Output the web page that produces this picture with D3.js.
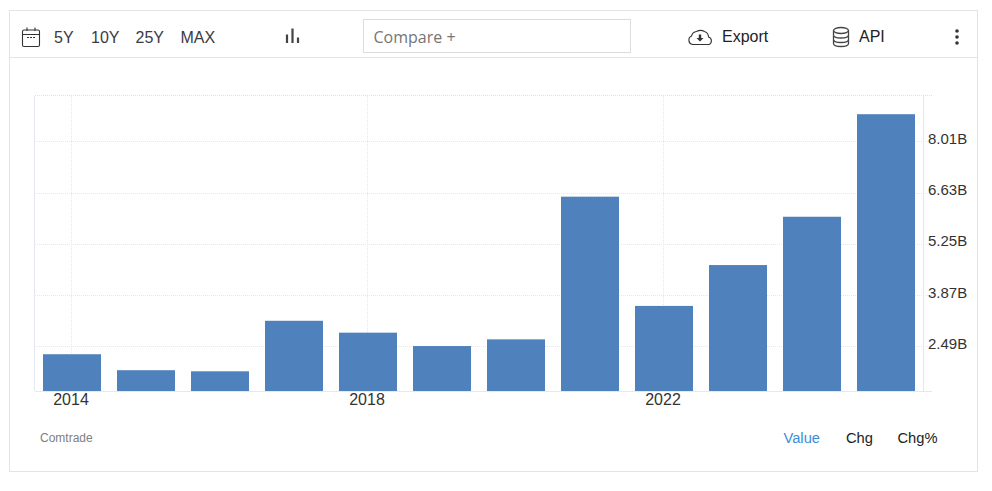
<!DOCTYPE html>
<html><head><meta charset="utf-8">
<script src="https://cdn.jsdelivr.net/npm/d3@7"></script>
<style>
html,body{margin:0;padding:0;background:#fff;overflow:hidden}
text{font-family:"Liberation Sans",Arial,sans-serif}
</style></head><body><svg id="c" width="992" height="491"></svg>
<script>
const years=[2014,2015,2016,2017,2018,2019,2020,2021,2022,2023,2024,2025];
const values=[2.28,1.85,1.82,3.18,2.86,2.5,2.68,6.52,3.58,4.68,5.98,8.74];
const yTicks=[2.49,3.87,5.25,6.63,8.01];
const yLabels=["2.49B","3.87B","5.25B","6.63B","8.01B"];
const xTicks=[2014,2018,2022];
const ranges=["5Y","10Y","25Y","MAX"];
const rangeX=[54,91,135.5,180.5];
const modes=["Value","Chg","Chg%"];
const modeX=[783.5,846,897.5];
const modeCol=["#3b8ed8","#222","#222"];
const barColor="#4f81bd", gridColor="#e6e8ea", frameColor="#e4e4e4";

const svg=d3.select("#c");
const x=d3.scaleBand().domain(years).range([35,923]).paddingInner(16/74).paddingOuter(8/74);
const y=d3.scaleLinear().domain([1.29,9.23]).range([391,96]);

// frame
svg.append("rect").attr("x",9.5).attr("y",10.5).attr("width",968).attr("height",461).attr("fill","#fff").attr("stroke",frameColor);
svg.append("line").attr("x1",10).attr("x2",977).attr("y1",57.5).attr("y2",57.5).attr("stroke",frameColor);

// grid
const g=svg.append("g");
g.append("g").selectAll("line").data(yTicks).join("line")
 .attr("x1",35).attr("x2",932).attr("y1",d=>Math.round(y(d))+.5).attr("y2",d=>Math.round(y(d))+.5)
 .attr("stroke",gridColor).attr("stroke-dasharray","1 1");
g.append("line").attr("x1",35).attr("x2",932).attr("y1",95.5).attr("y2",95.5).attr("stroke","#dfe1e4").attr("stroke-dasharray","1 1");
g.append("g").selectAll("line").data(xTicks).join("line")
 .attr("x1",d=>Math.floor(x(d)+x.bandwidth()/2)-.5).attr("x2",d=>Math.floor(x(d)+x.bandwidth()/2)-.5)
 .attr("y1",96).attr("y2",391).attr("stroke",gridColor).attr("stroke-dasharray","1 1");
g.append("line").attr("x1",34.5).attr("x2",34.5).attr("y1",96).attr("y2",391).attr("stroke","#e6e8ee");
g.append("line").attr("x1",923.5).attr("x2",923.5).attr("y1",96).attr("y2",391).attr("stroke","#e6e8ee");
g.append("line").attr("x1",35).attr("x2",932).attr("y1",391.5).attr("y2",391.5).attr("stroke","#e6e8ee");

// bars
svg.append("g").selectAll("rect").data(years).join("rect")
 .attr("x",d=>x(d)).attr("width",x.bandwidth())
 .attr("y",(d,i)=>y(values[i])).attr("height",(d,i)=>y.range()[0]-y(values[i]))
 .attr("fill",barColor);

// axes labels
svg.append("g").selectAll("text").data(yTicks).join("text")
 .attr("x",928).attr("y",d=>Math.round(y(d)+2.6)).attr("font-size",15).attr("fill","#333")
 .text((d,i)=>yLabels[i]);
svg.append("g").selectAll("text").data(xTicks).join("text")
 .attr("x",d=>x(d)+x.bandwidth()/2-1).attr("y",405).attr("text-anchor","middle").attr("font-size",16).attr("fill","#333").text(d=>d);
svg.append("text").attr("x",40).attr("y",442).attr("font-size",12).attr("fill","#808080").text("Comtrade");
svg.append("g").selectAll("text").data(modes).join("text")
 .attr("x",(d,i)=>modeX[i]).attr("y",443).attr("font-size",14.7).attr("fill",(d,i)=>modeCol[i]).text(d=>d);

// toolbar
svg.append("g").selectAll("text").data(ranges).join("text")
 .attr("x",(d,i)=>rangeX[i]).attr("y",43).attr("font-size",16).attr("fill","#3a3a45").text(d=>d);
svg.append("rect").attr("x",363.500).attr("y",19.500).attr("width",267).attr("height",33).attr("fill","#fff").attr("stroke","#dcdcdc");
svg.append("text").attr("x",373.500).attr("y",43).attr("font-size",16).attr("fill","#757575").attr("style",'font-family:"Open Sans"').text("Compare +");
svg.append("text").attr("x",722).attr("y",42).attr("font-size",16).attr("fill","#222").text("Export");
svg.append("text").attr("x",859).attr("y",42).attr("font-size",16).attr("fill","#222").text("API");

// calendar icon
const cal=svg.append("g").attr("fill","none").attr("stroke","#333").attr("stroke-width",1.1);
cal.append("rect").attr("x",22.500).attr("y",30).attr("width",17).attr("height",16.500).attr("rx",1.500);
cal.append("path").attr("d","M22.500 34.500H39.500M27 27.500V31M35 27.500V31M27 37.500H29M30 37.500H32M33 37.500H35");
// bar-type icon
svg.append("path").attr("d","M287 34.500v8.500M292.500 28.500v14.500M298 37.500v5.500").attr("stroke","#444").attr("stroke-width",2.2).attr("fill","none");
// cloud
const cl=svg.append("g").attr("fill","none").attr("stroke","#333").attr("stroke-width",1.1);
cl.append("path").attr("d","M694 44.500h-1.500a4.500 4.500 0 0 1 -1 -8.500a6 6 0 0 1 5 -4.500a8 8 0 0 1 8 0a6 6 0 0 1 4 5.500a4 4 0 0 1 0.500 7.500H694z");
svg.append("path").attr("d","M698.800 34.500h2.400v3.500h2.300l-3.500 3.500-3.500-3.500h2.300z").attr("fill","#333");
// db
const db=svg.append("g").attr("fill","none").attr("stroke","#444").attr("stroke-width",1.3);
db.append("ellipse").attr("cx",841).attr("cy",30.500).attr("rx",7.500).attr("ry",3);
db.append("path").attr("d","M833.500 30.500V43.500c0 2 3.500 3 7.500 3s7.500-1 7.500-3V30.500M833.500 35c0 2 3.500 3 7.500 3s7.500-1 7.500-3M833.500 39.500c0 2 3.500 3 7.500 3s7.500-1 7.500-3");
// kebab
svg.append("g").selectAll("circle").data([31,37,43]).join("circle").attr("cx",957).attr("cy",d=>d).attr("r",1.8).attr("fill","#333");
</script></body></html>
